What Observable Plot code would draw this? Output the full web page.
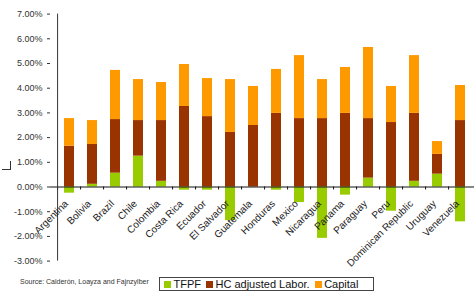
<!DOCTYPE html>
<html>
<head>
<meta charset="utf-8">
<script src="https://cdn.jsdelivr.net/npm/d3@7"></script>
<script src="https://cdn.jsdelivr.net/npm/@observablehq/plot@0.6"></script>
<style>
  body { margin: 0; background: #fff; }
  #wrap { position: relative; width: 474px; height: 298px; background: #fff; overflow: hidden; font-family: "Liberation Sans", Arial, sans-serif; }
  #chart { position: absolute; left: 0; top: 0; }
  #source { position: absolute; left: 20px; top: 278px; font-size: 7px; color: #333; white-space: nowrap; }
  #legend { position: absolute; left: 159px; top: 277px; width: 209px; height: 12px; border: 1px solid #444; display: flex; align-items: center; font-size: 11px; color: #111; padding-left: 4px; box-sizing: content-box; }
  #legend .item { display: flex; align-items: center; margin-right: 5px; white-space: nowrap; }
  #legend .sw { width: 7px; height: 7px; margin-right: 2.5px; }
  #mark { position: absolute; left: 2px; top: 161px; width: 8px; height: 8px; border-right: 1px solid #333; border-bottom: 1px solid #333; }
</style>
</head>
<body>
<div id="wrap">
  <div id="chart"></div>
  <div id="mark"></div>
  <div id="source">Source: Calderón, Loayza and Fajnzylber</div>
  <div id="legend"></div>
</div>
<script>
const countries = ["Argentina","Bolivia","Brazil","Chile","Colombia","Costa Rica","Ecuador","El Salvador","Guatemala","Honduras","Mexico","Nicaragua","Panama","Paraguay","Peru","Dominican Republic","Uruguay","Venezuela"];
const tfpf    = [-0.25, 0.11, 0.56, 1.25, 0.23, -0.13, -0.13, -1.36, 0.00, -0.13, -0.63, -2.08, -0.33, 0.36, -0.98, 0.23, 0.52, -1.41];
const hcLabor = [ 1.65, 1.61, 2.17, 1.44, 2.46,  3.26,  2.85,  2.21, 2.49,  2.98,  2.77,  2.77,  2.98, 2.41,  2.61, 2.75, 0.80,  2.69];
const capital = [ 1.12, 0.97, 1.99, 1.66, 1.54,  1.70,  1.54,  2.14, 1.58,  1.78,  2.55,  1.58,  1.86, 2.88,  1.46, 2.34, 0.52,  1.42];
const seriesNames = ["TFPF", "HC adjusted Labor.", "Capital"];
const seriesColors = ["#99CC00", "#993300", "#FF9900"];
const yTicks = [-3, -2, -1, 0, 1, 2, 3, 4, 5, 6, 7];

const seriesValues = [tfpf, hcLabor, capital];
const data = countries.flatMap((c, i) => seriesNames.map((s, k) => ({country: c, series: s, value: seriesValues[k][i]})));

const xRange = [50, 479];
const step = (xRange[1] - xRange[0]) / countries.length;

const chart = Plot.plot({
  width: 474,
  height: 274,
  marginLeft: 50,
  marginRight: 0,
  marginTop: 13.6,
  marginBottom: 13.4,
  x: {domain: countries, range: xRange, paddingInner: 0.58, paddingOuter: 0.29, axis: null},
  y: {domain: [-3, 7], axis: null},
  color: {domain: seriesNames, range: seriesColors},
  style: {fontFamily: "'Liberation Sans', Arial, sans-serif", background: "transparent", overflow: "visible"},
  marks: [
    Plot.barY(data, Plot.stackY({x: "country", y: "value", fill: "series"})),
    Plot.ruleY([0], {stroke: "#111", strokeWidth: 1}),
    Plot.ruleX(countries, {x: d => d, y1: () => 0, y2: () => 0, insetBottom: -3, dx: -step / 2, stroke: "#111"}),
    Plot.ruleX([countries[0]], {x: d => d, y1: () => yTicks[0], y2: () => yTicks[yTicks.length - 1], dx: -step / 2, stroke: "#333"}),
    Plot.axisY(yTicks, {label: null, tickFormat: d => d.toFixed(2) + "%", tickSize: 3, tickPadding: 5, fontSize: 9, color: "#333"}),
    Plot.text(countries, {x: d => d, y: () => 0, text: d => d, rotate: -45, textAnchor: "end", dx: -3, dy: 15, fontSize: 10, fill: "#222"})
  ]
});
document.getElementById("chart").appendChild(chart);

const legend = document.getElementById("legend");
seriesNames.forEach((s, k) => {
  const item = document.createElement("div");
  item.className = "item";
  const sw = document.createElement("div");
  sw.className = "sw";
  sw.style.background = seriesColors[k];
  const t = document.createElement("span");
  t.textContent = s;
  item.appendChild(sw);
  item.appendChild(t);
  legend.appendChild(item);
});
</script>
</body>
</html>
